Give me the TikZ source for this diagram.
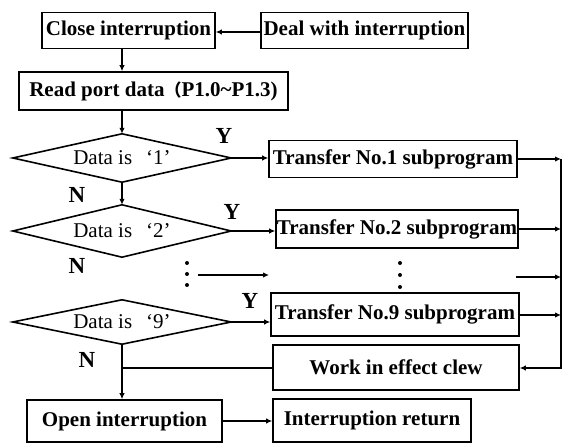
\documentclass[tikz,border=0pt]{standalone}
\usepackage{fontspec}
\setmainfont{Liberation Serif}
\newfontfamily\cjkfont{Noto Sans CJK SC}
\usetikzlibrary{arrows.meta}
\begin{document}
\begin{tikzpicture}[x=1pt,y=-1pt,
  box/.style={draw,line width=1.6pt,inner sep=0pt,font=\fontsize{21}{23}\selectfont\bfseries},
  dec/.style={inner sep=0pt,font=\fontsize{21}{23}\selectfont},
  lbl/.style={font=\fontsize{23}{24}\selectfont\bfseries,inner sep=0pt},
  con/.style={line width=1.6pt},
  arr/.style={line width=1.6pt,-{Latex[length=6pt,width=5.5pt]}}]
\useasboundingbox (0,0) rectangle (566,443);
\node[box,minimum width=173pt,minimum height=36pt] (close) at (128.5,30.5) {Close interruption};
\node[box,minimum width=207pt,minimum height=36pt] (deal) at (364.5,30.5) {Deal with interruption};
\node[box,minimum width=269pt,minimum height=38pt] (read) at (153.5,91) {Read port data{\cjkfont\fontsize{17}{19}\selectfont （}P1.0\char`\~P1.3)};
\node[dec,minimum width=218pt,minimum height=48pt] (d1) at (122,158) {Data is\hspace{14pt}‘1’};
\node[dec,minimum width=218pt,minimum height=52pt] (d2) at (122,231) {Data is\hspace{14pt}‘2’};
\node[dec,minimum width=218pt,minimum height=44pt] (d9) at (122,322) {Data is\hspace{14pt}‘9’};
\foreach \d in {d1,d2,d9}
  \draw[con,line join=miter] (\d.north) -- (\d.east) -- (\d.south) -- (\d.west) -- cycle;
\node[box,minimum width=248pt,minimum height=37pt] (t1) at (393,159) {Transfer No.1 subprogram};
\node[box,minimum width=242pt,minimum height=38pt] (t2) at (397,229) {Transfer No.2 subprogram};
\node[box,minimum width=248pt,minimum height=43pt] (t9) at (395,314.5) {Transfer No.9 subprogram};
\node[box,minimum width=246pt,minimum height=45pt] (work) at (396,367.5) {Work in effect clew};
\node[box,minimum width=195pt,minimum height=42pt] (open) at (124.5,421) {Open interruption};
\node[box,minimum width=198pt,minimum height=43pt] (ret) at (372,420.5) {Interruption return};
\node[lbl] (y1) at (224,136) {Y};
\node[lbl] (y2) at (232,212) {Y};
\node[lbl] (y9) at (250,301) {Y};
\node[lbl] (n1) at (77,195) {N};
\node[lbl] (n2) at (77,266) {N};
\node[lbl] (n9) at (87,360) {N};
\coordinate (c1) at (561,159);
\coordinate (c2) at (561,229);
\coordinate (c3) at (561,277);
\coordinate (c9) at (561,315);
\coordinate (cw) at (561,368);
\coordinate (ds) at (516,277);
\coordinate (la) at (198,275);
\coordinate (lb) at (269,275);
\foreach \yy in {263,274,285} \fill (187,\yy) circle (2pt);
\foreach \yy in {263,275,287} \fill (400,\yy) circle (2pt);
\draw[arr] (deal.west |- 0,32) -- (close.east |- 0,32);
\draw[arr] (d1.north |- close.south) -- (d1.north |- read.north);
\draw[arr] (d1.north |- read.south) -- (d1.north);
\draw[arr] (d1.south) -- (d2.north);
\draw[arr] (d1.east) -- (d1.east -| t1.west);
\draw[arr] (d2.east) -- (d2.east -| t2.west);
\draw[arr] (d9.east) -- (d9.east -| t9.west);
\draw[arr] (la) -- (lb);
\draw[arr] (t1.east) -- (c1);
\draw[arr] (t2.east) -- (c2);
\draw[arr] (ds) -- (c3);
\draw[arr] (t9.east |- c9) -- (c9);
\draw[arr] (c1) -- (cw) -- (work.east |- cw);
\draw[con] (work.west |- cw) -- (d9.south |- cw);
\draw[arr] (d9.south) -- (d9.south |- open.north);
\draw[arr] (open.east) -- (ret.west |- open.east);
\end{tikzpicture}
\end{document}
